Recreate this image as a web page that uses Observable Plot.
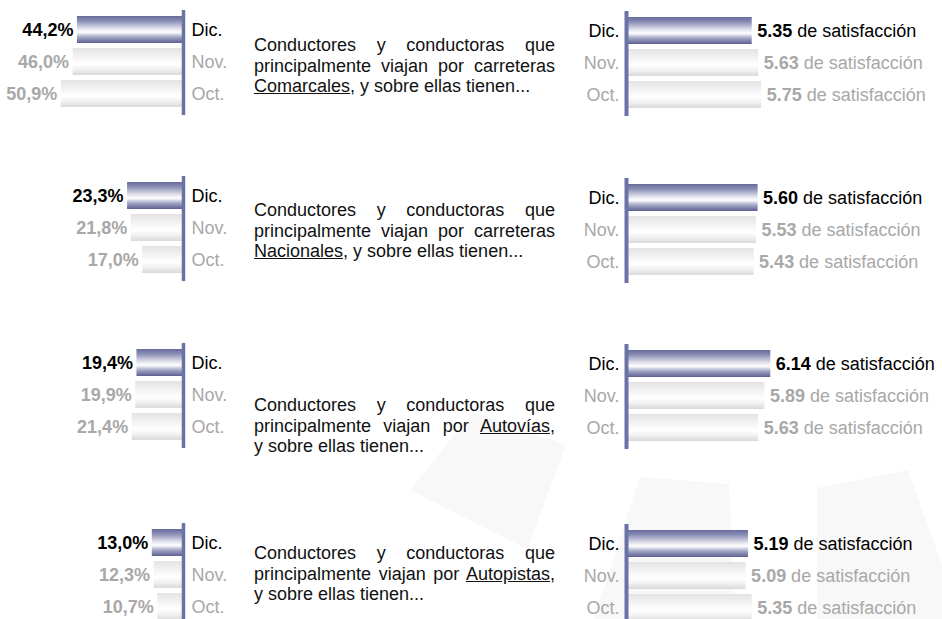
<!DOCTYPE html>
<html>
<head>
<meta charset="utf-8">
<script src="https://cdn.jsdelivr.net/npm/d3@7"></script>
<script src="https://cdn.jsdelivr.net/npm/@observablehq/plot@0.6"></script>
<style>
  html, body { margin: 0; padding: 0; background: #ffffff; }
  #root { position: relative; width: 942px; height: 619px; overflow: hidden; font-family: "Liberation Sans", Arial, sans-serif; }
  .panel { position: absolute; }
  .desc { position: absolute; left: 254px; width: 301px; font-size: 18px; line-height: 20.5px; color: #111; }
  .desc div { white-space: nowrap; }
  .desc .j { text-align: justify; text-align-last: justify; white-space: normal; }
  .desc u { text-decoration: underline; }
</style>
</head>
<body>
<div id="root"></div>
<script>
// ---- data ----
const roads = ["Comarcales", "Nacionales", "Autovías", "Autopistas"];
const months = ["Dic.", "Nov.", "Oct."];
const shareComarcales = [44.2, 46.0, 50.9];
const shareNacionales = [23.3, 21.8, 17.0];
const shareAutovias = [19.4, 19.9, 21.4];
const shareAutopistas = [13.0, 12.3, 10.7];
const satComarcales = [5.35, 5.63, 5.75];
const satNacionales = [5.60, 5.53, 5.43];
const satAutovias = [6.14, 5.89, 5.63];
const satAutopistas = [5.19, 5.09, 5.35];
const descLine1 = ["Conductores y conductoras que", "Conductores y conductoras que", "Conductores y conductoras que", "Conductores y conductoras que"];
const descLine2 = ["principalmente viajan por carreteras", "principalmente viajan por carreteras", "principalmente viajan por", "principalmente viajan por"];
const descLine3Suffix = [", y sobre ellas tienen...", ", y sobre ellas tienen...", ",", ","];
const descLine4 = ["", "", "y sobre ellas tienen...", "y sobre ellas tienen..."];
const satSuffix = "de satisfacción";

const shares = [shareComarcales, shareNacionales, shareAutovias, shareAutopistas];
const sats = [satComarcales, satNacionales, satAutovias, satAutopistas];

// ---- layout ----
const root = document.getElementById("root");
const FONT = "'Liberation Sans', Arial, sans-serif";
const DARK = "#000000", GRAY = "#a8a8a8", AXIS = "#6a72a6";

// background decorative shapes
const bg = d3.select(root).append("svg")
  .attr("width", 942).attr("height", 619)
  .style("position", "absolute").style("left", 0).style("top", 0);
const shapes = [
  [[410,490],[473,412],[566,445],[527,549]],
  [[640,477],[729,484],[736,619],[594,619]],
  [[817,488],[908,470],[942,565],[942,619],[817,619]]
];
bg.selectAll("polygon").data(shapes).join("polygon")
  .attr("points", d => d.map(p => p.join(",")).join(" "))
  .attr("fill", "#f8f8f8");

function addDefs(svg, id) {
  const defs = d3.select(svg).insert("defs", ":first-child");
  const b = defs.append("linearGradient").attr("id", "gb" + id).attr("x1", 0).attr("y1", 0).attr("x2", 0).attr("y2", 1);
  [[0, "#676b9a"], [0.18, "#8a8db4"], [0.45, "#dcdde9"], [0.6, "#ffffff"], [0.78, "#a3a6c4"], [1, "#5c6090"]]
    .forEach(([o, c]) => b.append("stop").attr("offset", o).attr("stop-color", c));
  const g = defs.append("linearGradient").attr("id", "gg" + id).attr("x1", 0).attr("y1", 0).attr("x2", 0).attr("y2", 1);
  [[0, "#e3e3e3"], [0.3, "#f1f1f1"], [0.6, "#ffffff"], [0.8, "#f0f0f0"], [1, "#d9d9d9"]]
    .forEach(([o, c]) => g.append("stop").attr("offset", o).attr("stop-color", c));
}

const leftTops = [10, 176, 343, 523];
const rightTops = [11, 178, 344, 524];
const descTops = [35, 200, 395, 543];

const yOpts = {domain: months, range: [3.5, 99.5], paddingInner: 5 / 32, paddingOuter: 2.5 / 32, axis: null};
const styleOpts = {background: "none", overflow: "visible", fontFamily: FONT, fontSize: "18px"};

roads.forEach((road, i) => {
  const sdata = months.map((m, j) => ({month: m, value: shares[i][j]}));
  const left = Plot.plot({
    width: 240, height: 105,
    marginTop: 0, marginBottom: 0, marginLeft: 0, marginRight: 0,
    x: {domain: [0, 183 / 2.4], range: [183, 0], axis: null},
    y: yOpts,
    color: {type: "identity"},
    style: styleOpts,
    marks: [
      Plot.barX(sdata.filter(d => d.month === "Dic."), {x: "value", y: "month", fill: `url(#gbL${i})`}),
      Plot.barX(sdata.filter(d => d.month !== "Dic."), {x: "value", y: "month", fill: `url(#ggL${i})`}),
      Plot.ruleX([0], {stroke: AXIS, strokeWidth: 3.5}),
      Plot.text(sdata, {x: "value", y: "month", text: d => d.value.toFixed(1).replace(".", ",") + "%",
        textAnchor: "end", dx: -4, fontWeight: "bold", fill: d => d.month === "Dic." ? DARK : GRAY}),
      Plot.text(sdata, {x: 0, y: "month", text: "month", textAnchor: "start", dx: 8,
        fill: d => d.month === "Dic." ? DARK : GRAY})
    ]
  });
  addDefs(left, "L" + i);
  const ldiv = document.createElement("div");
  ldiv.className = "panel";
  ldiv.style.left = "0px"; ldiv.style.top = leftTops[i] + "px"; ldiv.style.width = "240px";
  ldiv.appendChild(left);
  root.appendChild(ldiv);

  const rdata = months.map((m, j) => ({month: m, value: sats[i][j]}));
  const right = Plot.plot({
    width: 382, height: 105,
    marginTop: 0, marginBottom: 0, marginLeft: 0, marginRight: 0,
    x: {domain: [0, 10], range: [66, 301], axis: null},
    y: yOpts,
    color: {type: "identity"},
    style: styleOpts,
    marks: [
      Plot.barX(rdata.filter(d => d.month === "Dic."), {x: "value", y: "month", fill: `url(#gbR${i})`}),
      Plot.barX(rdata.filter(d => d.month !== "Dic."), {x: "value", y: "month", fill: `url(#ggR${i})`}),
      Plot.ruleX([0], {stroke: AXIS, strokeWidth: 4}),
      Plot.text(rdata, {x: "value", y: "month", text: d => d.value.toFixed(2),
        textAnchor: "start", dx: 5, fontWeight: "bold", fill: d => d.month === "Dic." ? DARK : GRAY}),
      Plot.text(rdata, {x: "value", y: "month", text: () => satSuffix,
        textAnchor: "start", dx: 45, fill: d => d.month === "Dic." ? DARK : GRAY}),
      Plot.text(rdata, {x: 0, y: "month", text: "month", textAnchor: "end", dx: -7,
        fill: d => d.month === "Dic." ? DARK : GRAY})
    ]
  });
  addDefs(right, "R" + i);
  const rdiv = document.createElement("div");
  rdiv.className = "panel";
  rdiv.style.left = "560px"; rdiv.style.top = rightTops[i] + "px"; rdiv.style.width = "382px";
  rdiv.appendChild(right);
  root.appendChild(rdiv);

  // description text
  const desc = document.createElement("div");
  desc.className = "desc";
  desc.style.top = descTops[i] + "px";
  const l1 = document.createElement("div"); l1.className = "j"; l1.textContent = descLine1[i];
  const l2 = document.createElement("div");
  if (descLine4[i]) {
    l2.className = "j";
    l2.append(descLine2[i] + " ");
    const u = document.createElement("u"); u.textContent = road; l2.append(u); l2.append(descLine3Suffix[i]);
    const l3 = document.createElement("div"); l3.textContent = descLine4[i];
    desc.append(l1, l2, l3);
  } else {
    l2.className = "j"; l2.textContent = descLine2[i];
    const l3 = document.createElement("div");
    const u = document.createElement("u"); u.textContent = road; l3.append(u); l3.append(descLine3Suffix[i]);
    desc.append(l1, l2, l3);
  }
  root.appendChild(desc);
});
</script>
</body>
</html>
